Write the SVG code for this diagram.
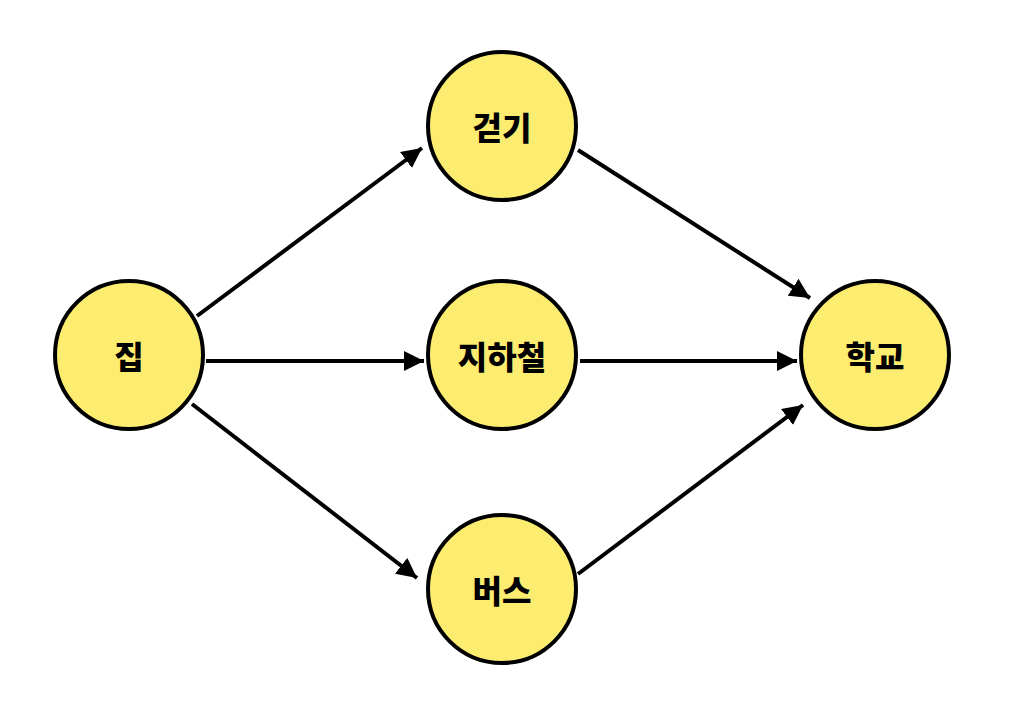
<svg xmlns="http://www.w3.org/2000/svg" width="1020" height="728" viewBox="0 0 1020 728">
<defs>
<marker id="ah" viewBox="0 0 10 10" refX="10" refY="5" markerWidth="5" markerHeight="5" orient="auto" markerUnits="strokeWidth">
<path d="M0,0 L10,5 L0,10 z" fill="#000"/>
</marker>
<style>
.n{fill:#FCEC70;stroke:#000;stroke-width:4}
.t{font-family:"Noto Sans CJK KR","Noto Sans",sans-serif;font-weight:900;font-size:32px;fill:#000;text-anchor:middle;dominant-baseline:central}
.e{stroke:#000;stroke-width:4;fill:none;marker-end:url(#ah)}
</style>
</defs>
<rect width="1020" height="728" fill="#fff"/>
<g id="edges">
<line class="e" x1="197" y1="316" x2="422" y2="148"/>
<line class="e" x1="206" y1="361" x2="424" y2="361"/>
<line class="e" x1="192" y1="404" x2="417" y2="578"/>
<line class="e" x1="578" y1="150" x2="810" y2="298"/>
<line class="e" x1="580" y1="361" x2="797" y2="361"/>
<line class="e" x1="578" y1="574" x2="803" y2="405"/>
</g>
<g id="home"><circle class="n" cx="129" cy="355" r="74"/><text class="t" x="129" y="355">집</text></g>
<g id="walk"><circle class="n" cx="502" cy="126" r="74"/><text class="t" x="502" y="126">걷기</text></g>
<g id="subway"><circle class="n" cx="502" cy="355" r="74"/><text class="t" x="502" y="355">지하철</text></g>
<g id="bus"><circle class="n" cx="502" cy="589" r="74"/><text class="t" x="502" y="589">버스</text></g>
<g id="school"><circle class="n" cx="875" cy="355" r="74"/><text class="t" x="875" y="355">학교</text></g>
</svg>
